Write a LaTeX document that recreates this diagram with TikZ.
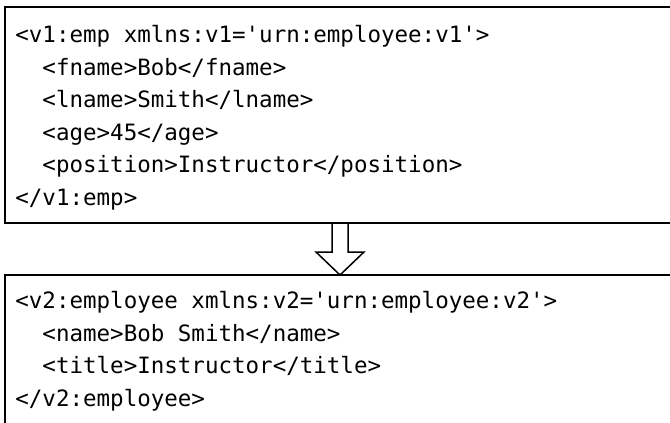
\documentclass[tikz,border=0pt]{standalone}
\usepackage{fontspec}
\setmonofont{DejaVu Sans Mono}
\tikzset{%
  xmlbox/.style   = {shape=rectangle, draw, line width=1pt, outer sep=0pt,%
                     anchor=north west, minimum width=335pt},%
  xmlcode/.style  = {anchor=base west, align=left, inner sep=0pt,%
                     font=\ttfamily\fontsize{11.25}{16.25}\selectfont},%
  fatarrow/.style = {draw, line width=0.75pt, line join=miter}%
}
\begin{document}
\begin{tikzpicture}[x=0.5pt,y=-0.5pt]
  \useasboundingbox (0,0) rectangle (670,423);
  \clip (0,0) rectangle (670,423);
  % the two documents
  \node [xmlbox, minimum height=108pt] (v1box) at (5,7) {};
  \node [xmlbox, minimum height=80pt] (v2box) at (5,275) {};
  \node [xmlcode] (v1emp) at (15,205) {<v1:emp xmlns:v1='urn:employee:v1'>\\
    \hphantom{xx}<fname>Bob</fname>\\
    \hphantom{xx}<lname>Smith</lname>\\
    \hphantom{xx}<age>45</age>\\
    \hphantom{xx}<position>Instructor</position>\\
    </v1:emp>};
  \node [xmlcode] (v2emp) at (15,406) {<v2:employee xmlns:v2='urn:employee:v2'>\\
    \hphantom{xx}<name>Bob Smith</name>\\
    \hphantom{xx}<title>Instructor</title>\\
    </v2:employee>};
  % hollow arrow between them
  \draw [fatarrow] ([xshift=-4pt]v1box.south) -- ++(0,29) -- ++(-16,0)
    -- (v2box.north) -- ++(24,-23) -- ++(-16,0) -- ([xshift=4pt]v1box.south);
\end{tikzpicture}
\end{document}
